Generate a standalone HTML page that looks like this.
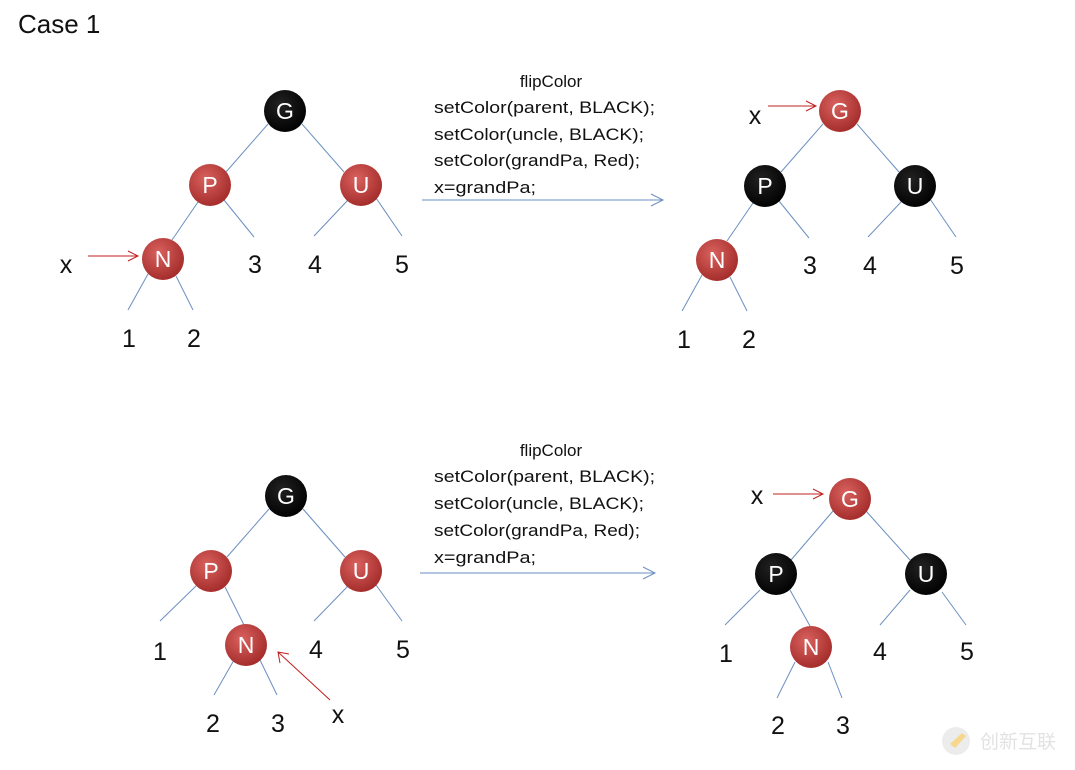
<!DOCTYPE html>
<html><head><meta charset="utf-8"><style>
html,body{margin:0;padding:0;background:#fff;}
svg{display:block;font-family:"Liberation Sans",sans-serif;}
</style></head><body>
<svg width="1075" height="770" viewBox="0 0 1075 770" xmlns="http://www.w3.org/2000/svg">
<defs>
<radialGradient id="rg" cx="0.4" cy="0.35" r="0.7"><stop offset="0" stop-color="#d9625f"/><stop offset="1" stop-color="#a12a28"/></radialGradient>
<radialGradient id="bg" cx="0.4" cy="0.35" r="0.7"><stop offset="0" stop-color="#222"/><stop offset="1" stop-color="#000"/></radialGradient>
</defs>
<text x="18" y="33" font-size="26" fill="#111">Case 1</text>

<g stroke="#6b8fc0" stroke-width="1" fill="none">
<!-- tree 1 -->
<line x1="268" y1="124" x2="226" y2="172"/><line x1="302" y1="124" x2="344" y2="172"/>
<line x1="198" y1="202" x2="172" y2="240"/><line x1="224" y1="200" x2="254" y2="237"/>
<line x1="348" y1="200" x2="314" y2="236"/><line x1="376" y1="198" x2="402" y2="236"/>
<line x1="148" y1="274" x2="128" y2="310"/><line x1="176" y1="276" x2="193" y2="310"/>
<!-- tree 2 -->
<line x1="823" y1="124" x2="781" y2="172"/><line x1="857" y1="124" x2="899" y2="172"/>
<line x1="753" y1="203" x2="727" y2="241"/><line x1="779" y1="201" x2="809" y2="238"/>
<line x1="902" y1="201" x2="868" y2="237"/><line x1="930" y1="199" x2="956" y2="237"/>
<line x1="702" y1="275" x2="682" y2="311"/><line x1="730" y1="277" x2="747" y2="311"/>
<!-- tree 3 -->
<line x1="269" y1="509" x2="227" y2="557"/><line x1="303" y1="509" x2="345" y2="557"/>
<line x1="196" y1="586" x2="160" y2="621"/><line x1="225" y1="587" x2="244" y2="625"/>
<line x1="348" y1="586" x2="314" y2="621"/><line x1="376" y1="585" x2="402" y2="621"/>
<line x1="234" y1="660" x2="214" y2="695"/><line x1="260" y1="660" x2="277" y2="695"/>
<!-- tree 4 -->
<line x1="833" y1="511" x2="791" y2="560"/><line x1="866" y1="511" x2="910" y2="560"/>
<line x1="760" y1="590" x2="725" y2="625"/><line x1="790" y1="590" x2="810" y2="626"/>
<line x1="910" y1="590" x2="880" y2="625"/><line x1="942" y1="592" x2="966" y2="625"/>
<line x1="795" y1="662" x2="777" y2="698"/><line x1="828" y1="662" x2="842" y2="698"/>
<!-- connectors -->
<line x1="422" y1="200" x2="663" y2="200"/><polyline points="651,194 663,200 651,206"/>
<line x1="420" y1="573" x2="655" y2="573"/><polyline points="643,567 655,573 643,579"/>
</g>

<g stroke="#c0201e" stroke-width="1" fill="none">
<line x1="88" y1="256" x2="138" y2="256"/><polyline points="128,251 138,256 128,261"/>
<line x1="768" y1="106" x2="816" y2="106"/><polyline points="806,101 816,106 806,111"/>
<line x1="330" y1="700" x2="278" y2="652"/><polyline points="280,663 278,652 289,654"/>
<line x1="773" y1="494" x2="823" y2="494"/><polyline points="813,489 823,494 813,499"/>
</g>

<g font-size="23" fill="#fff" text-anchor="middle">
<circle cx="285" cy="111" r="21" fill="url(#bg)"/><text x="285" y="119">G</text>
<circle cx="210" cy="185" r="21" fill="url(#rg)"/><text x="210" y="193">P</text>
<circle cx="361" cy="185" r="21" fill="url(#rg)"/><text x="361" y="193">U</text>
<circle cx="163" cy="259" r="21" fill="url(#rg)"/><text x="163" y="267">N</text>

<circle cx="840" cy="111" r="21" fill="url(#rg)"/><text x="840" y="119">G</text>
<circle cx="765" cy="186" r="21" fill="url(#bg)"/><text x="765" y="194">P</text>
<circle cx="915" cy="186" r="21" fill="url(#bg)"/><text x="915" y="194">U</text>
<circle cx="717" cy="260" r="21" fill="url(#rg)"/><text x="717" y="268">N</text>

<circle cx="286" cy="496" r="21" fill="url(#bg)"/><text x="286" y="504">G</text>
<circle cx="211" cy="571" r="21" fill="url(#rg)"/><text x="211" y="579">P</text>
<circle cx="361" cy="571" r="21" fill="url(#rg)"/><text x="361" y="579">U</text>
<circle cx="246" cy="645" r="21" fill="url(#rg)"/><text x="246" y="653">N</text>

<circle cx="850" cy="499" r="21" fill="url(#rg)"/><text x="850" y="507">G</text>
<circle cx="776" cy="574" r="21" fill="url(#bg)"/><text x="776" y="582">P</text>
<circle cx="926" cy="574" r="21" fill="url(#bg)"/><text x="926" y="582">U</text>
<circle cx="811" cy="647" r="21" fill="url(#rg)"/><text x="811" y="655">N</text>
</g>

<g font-size="25" fill="#111" text-anchor="middle">
<text x="66" y="273">x</text>
<text x="255" y="273">3</text><text x="315" y="273">4</text><text x="402" y="273">5</text>
<text x="129" y="347">1</text><text x="194" y="347">2</text>
<text x="755" y="124">x</text>
<text x="810" y="274">3</text><text x="870" y="274">4</text><text x="957" y="274">5</text>
<text x="684" y="348">1</text><text x="749" y="348">2</text>
<text x="160" y="660">1</text><text x="316" y="658">4</text><text x="403" y="658">5</text>
<text x="213" y="732">2</text><text x="278" y="732">3</text>
<text x="338" y="723">x</text>
<text x="757" y="504">x</text>
<text x="726" y="662">1</text><text x="880" y="660">4</text><text x="967" y="660">5</text>
<text x="778" y="734">2</text><text x="843" y="734">3</text>
</g>

<g font-size="17" fill="#111">
<text x="551" y="87" text-anchor="middle">flipColor</text>
<text x="434" y="113" textLength="221" lengthAdjust="spacingAndGlyphs">setColor(parent, BLACK);</text>
<text x="434" y="140" textLength="210" lengthAdjust="spacingAndGlyphs">setColor(uncle, BLACK);</text>
<text x="434" y="166" textLength="206" lengthAdjust="spacingAndGlyphs">setColor(grandPa, Red);</text>
<text x="434" y="193" textLength="102" lengthAdjust="spacingAndGlyphs">x=grandPa;</text>

<text x="551" y="456" text-anchor="middle">flipColor</text>
<text x="434" y="482" textLength="221" lengthAdjust="spacingAndGlyphs">setColor(parent, BLACK);</text>
<text x="434" y="509" textLength="210" lengthAdjust="spacingAndGlyphs">setColor(uncle, BLACK);</text>
<text x="434" y="536" textLength="206" lengthAdjust="spacingAndGlyphs">setColor(grandPa, Red);</text>
<text x="434" y="563" textLength="102" lengthAdjust="spacingAndGlyphs">x=grandPa;</text>
</g>

<g opacity="0.55">
<circle cx="956" cy="741" r="14" fill="#ddd"/>
<path d="M950 744 L962 733 L966 736 L955 748 Z" fill="#f1b733"/>
<text x="980" y="748" font-size="19" fill="#ccc" font-family="'Liberation Sans','Noto Sans CJK SC',sans-serif">创新互联</text>
</g>
</svg>
</body></html>
